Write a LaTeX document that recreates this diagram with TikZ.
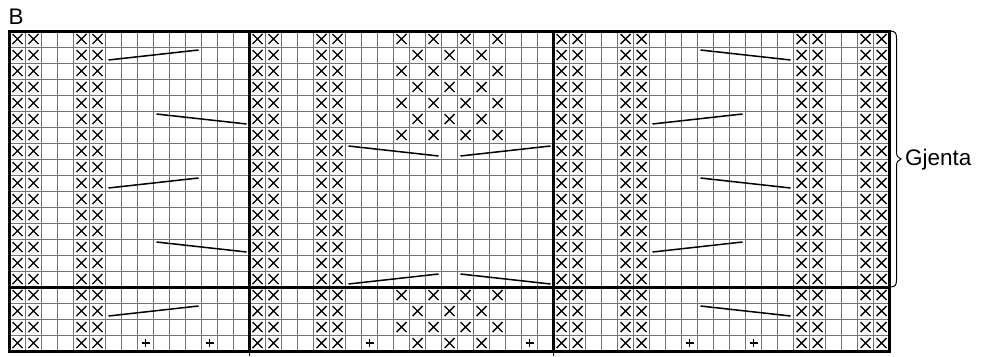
\documentclass[tikz,border=0pt]{standalone}
\usepackage{fontspec}
\setmainfont{Liberation Sans}
\newcommand\xmk[2]{\draw[xmark] ({1.5+16*#1-5},{23+16*#2-5}) -- ++(10,10) ({1.5+16*#1-5},{23+16*#2+5}) -- ++(10,-10);}
\newcommand\pmk[2]{\draw[pmark] ({1.5+16*#1-4},{23+16*#2}) -- ++(8,0) ({1.5+16*#1},{23+16*#2-4}) -- ++(0,8);}
\newcommand\cabasc[3]{\draw[cable] ({9.5+16*(#1-1)+3},{31+16*#3-3}) -- ({9.5+16*#2-3},{31+16*(#3-1)+3});}
\newcommand\cabdesc[3]{\draw[cable] ({9.5+16*(#1-1)+3},{31+16*(#3-1)+3}) -- ({9.5+16*#2-3},{31+16*#3-3});}
\begin{document}
\begin{tikzpicture}[x=1pt,y=-1pt,
  gridline/.style={draw=black!55,line width=0.9pt},
  thickline/.style={draw=black,line width=3pt},
  xmark/.style={draw=black,line width=1.4pt},
  pmark/.style={draw=black,line width=1.4pt},
  cable/.style={draw=black,line width=1.5pt},
  bracestyle/.style={draw=black,line width=1pt},
  lbl/.style={font=\fontsize{22.5}{26}\selectfont,inner sep=0pt}]
\useasboundingbox (0,0) rectangle (981,356);
% thin grid
\foreach \c in {0,...,55} \draw[gridline] ({9.5+16*\c},31) -- ({9.5+16*\c},351);
\foreach \r in {0,...,20} \draw[gridline] (9.5,{31+16*\r}) -- (889.5,{31+16*\r});
% X columns
\foreach \r in {1,...,20} {\foreach \c in {1,2,5,6,16,17,20,21,35,36,39,40,50,51,54,55} {\xmk{\c}{\r}}}
% diamond pattern
\foreach \r in {1,3,5,7,17,19} {\foreach \c in {25,27,29,31} {\xmk{\c}{\r}}}
\foreach \r in {2,4,6,18,20} {\foreach \c in {26,28,30} {\xmk{\c}{\r}}}
% plus marks
\foreach \c in {9,13,23,33,43,47} {\pmk{\c}{20}}
% cables section 1
\foreach \r in {2,10,18} {\cabasc{7}{12}{\r}}
\foreach \r in {6,14} {\cabdesc{10}{15}{\r}}
% section 2
\cabdesc{22}{27}{8}
\cabasc{29}{34}{8}
\cabasc{22}{27}{16}
\cabdesc{29}{34}{16}
% section 3
\foreach \r in {2,10,18} {\cabdesc{44}{49}{\r}}
\foreach \r in {6,14} {\cabasc{41}{46}{\r}}
% thick lines
\draw[thickline] (9.5,31) rectangle (889.5,351);
\draw[thickline] (249.5,31) -- (249.5,351);
\draw[thickline] (553.5,31) -- (553.5,351);
\draw[thickline] (9.5,287) -- (889.5,287);
\draw[draw=black,line width=0.8pt] (249.5,351) -- (249.5,356);
\draw[draw=black,line width=0.8pt] (553.5,351) -- (553.5,356);
% brace
\coordinate (bt) at (890,31);
\coordinate (bb) at (890,287);
\coordinate (tip) at (901,159);
\draw[bracestyle] (bt) .. controls (895,31) and (896.5,33) .. (896.5,38) -- (896.5,152) .. controls (896.5,156) and (898,158) .. (tip) .. controls (898,160) and (896.5,162) .. (896.5,166) -- (896.5,280) .. controls (896.5,285) and (895,287) .. (bb);
\node[lbl,anchor=west] (gjenta) at (905,160) {Gjenta};
\node[lbl,anchor=base west] (blabel) at (8.5,24) {B};
\end{tikzpicture}
\end{document}
